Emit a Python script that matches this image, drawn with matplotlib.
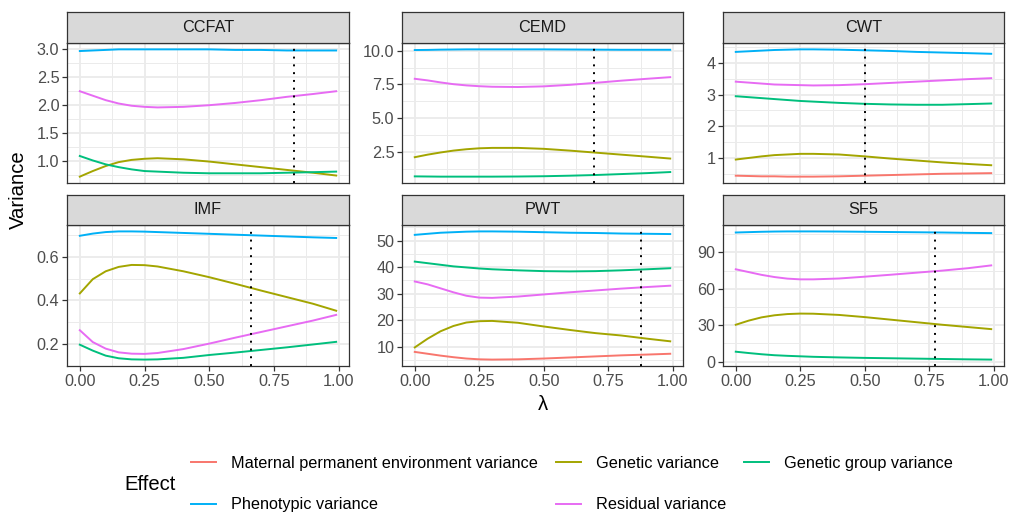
import numpy as np
import matplotlib
matplotlib.use("Agg")
import matplotlib.pyplot as plt
from matplotlib.lines import Line2D

plt.rcParams['font.family'] = ['Liberation Sans', 'DejaVu Sans']

# lambda grid the variances were read at
lam = [0, 0.05, 0.10, 0.15, 0.20, 0.25, 0.30, 0.40, 0.50, 0.60, 0.70, 0.80, 0.90, 0.99]

effects = ["Maternal permanent environment variance", "Genetic variance",
           "Genetic group variance", "Phenotypic variance", "Residual variance"]
colors = ["#F8766D", "#A3A500", "#00BF7D", "#00B0F6", "#E76BF3"]

traits = ["CCFAT", "CEMD", "CWT", "IMF", "PWT", "SF5"]
opt_lambda = [0.826, 0.696, 0.499, 0.66, 0.877, 0.774]

# CCFAT
ccfat_gen = [0.72, 0.82, 0.91, 0.98, 1.02, 1.04, 1.05, 1.03, 0.99, 0.94, 0.89, 0.84, 0.79, 0.74]
ccfat_grp = [1.09, 1.01, 0.94, 0.89, 0.85, 0.82, 0.81, 0.79, 0.78, 0.78, 0.78, 0.79, 0.80, 0.81]
ccfat_phe = [2.97, 2.98, 2.99, 3.00, 3.00, 3.00, 3.00, 3.00, 3.00, 2.99, 2.99, 2.98, 2.98, 2.98]
ccfat_res = [2.25, 2.17, 2.09, 2.03, 1.99, 1.97, 1.96, 1.97, 2.00, 2.04, 2.09, 2.15, 2.20, 2.25]

# CEMD
cemd_gen = [2.11, 2.30, 2.46, 2.60, 2.70, 2.77, 2.80, 2.80, 2.73, 2.60, 2.45, 2.30, 2.15, 2.01]
cemd_grp = [0.69, 0.68, 0.67, 0.67, 0.67, 0.67, 0.67, 0.68, 0.70, 0.74, 0.79, 0.86, 0.93, 1.01]
cemd_phe = [10.05, 10.06, 10.08, 10.09, 10.10, 10.10, 10.10, 10.10, 10.10, 10.09, 10.08, 10.07, 10.07, 10.07]
cemd_res = [7.92, 7.80, 7.65, 7.52, 7.43, 7.37, 7.33, 7.31, 7.36, 7.47, 7.62, 7.78, 7.92, 8.04]

# CWT
cwt_mat = [0.44, 0.43, 0.42, 0.42, 0.41, 0.41, 0.41, 0.42, 0.44, 0.46, 0.48, 0.50, 0.51, 0.52]
cwt_gen = [0.95, 1.00, 1.05, 1.09, 1.11, 1.13, 1.13, 1.11, 1.05, 0.98, 0.92, 0.86, 0.81, 0.77]
cwt_grp = [2.95, 2.92, 2.89, 2.86, 2.83, 2.80, 2.78, 2.74, 2.71, 2.69, 2.68, 2.68, 2.70, 2.72]
cwt_phe = [4.35, 4.37, 4.39, 4.41, 4.42, 4.43, 4.43, 4.42, 4.40, 4.38, 4.35, 4.33, 4.31, 4.29]
cwt_res = [3.41, 3.38, 3.35, 3.32, 3.31, 3.30, 3.29, 3.30, 3.33, 3.37, 3.41, 3.45, 3.49, 3.52]

# IMF
imf_gen = [0.432, 0.497, 0.533, 0.553, 0.562, 0.561, 0.555, 0.533, 0.506, 0.476, 0.445, 0.415, 0.385, 0.353]
imf_grp = [0.198, 0.171, 0.148, 0.136, 0.131, 0.130, 0.131, 0.138, 0.151, 0.162, 0.174, 0.186, 0.199, 0.211]
imf_phe = [0.695, 0.705, 0.712, 0.715, 0.715, 0.714, 0.712, 0.708, 0.704, 0.700, 0.696, 0.692, 0.688, 0.685]
imf_res = [0.264, 0.210, 0.180, 0.163, 0.157, 0.156, 0.160, 0.178, 0.203, 0.230, 0.256, 0.282, 0.308, 0.334]

# PWT
pwt_mat = [8.0, 7.3, 6.6, 6.0, 5.5, 5.2, 5.1, 5.2, 5.5, 5.9, 6.3, 6.7, 7.0, 7.3]
pwt_gen = [9.7, 13.0, 15.8, 17.8, 19.1, 19.6, 19.7, 19.0, 17.6, 16.3, 15.1, 14.2, 13.0, 12.0]
pwt_grp = [42.1, 41.5, 40.9, 40.3, 39.9, 39.5, 39.2, 38.8, 38.5, 38.4, 38.5, 38.8, 39.2, 39.6]
pwt_phe = [52.2, 52.6, 53.0, 53.2, 53.4, 53.5, 53.5, 53.4, 53.2, 53.0, 52.9, 52.7, 52.6, 52.5]
pwt_res = [34.6, 33.5, 32.0, 30.5, 29.2, 28.5, 28.4, 28.9, 29.7, 30.5, 31.2, 31.9, 32.5, 33.0]

# SF5
sf5_gen = [30.4, 33.8, 36.5, 38.2, 39.2, 39.6, 39.5, 38.5, 36.7, 34.6, 32.5, 30.4, 28.5, 26.8]
sf5_grp = [8.2, 7.1, 6.1, 5.3, 4.8, 4.4, 4.0, 3.5, 3.1, 2.8, 2.5, 2.2, 1.9, 1.7]
sf5_phe = [106.4, 106.7, 107.0, 107.2, 107.3, 107.3, 107.3, 107.2, 107.0, 106.8, 106.6, 106.4, 106.1, 105.9]
sf5_res = [76.1, 73.8, 71.5, 69.7, 68.4, 67.8, 67.8, 68.5, 70.0, 71.6, 73.3, 75.0, 77.0, 79.3]

# series per trait, in effect order (None = effect not in model)
series = {
    "CCFAT": [None, ccfat_gen, ccfat_grp, ccfat_phe, ccfat_res],
    "CEMD": [None, cemd_gen, cemd_grp, cemd_phe, cemd_res],
    "CWT": [cwt_mat, cwt_gen, cwt_grp, cwt_phe, cwt_res],
    "IMF": [None, imf_gen, imf_grp, imf_phe, imf_res],
    "PWT": [pwt_mat, pwt_gen, pwt_grp, pwt_phe, pwt_res],
    "SF5": [None, sf5_gen, sf5_grp, sf5_phe, sf5_res],
}
yticks = {
    "CCFAT": ([1.0, 1.5, 2.0, 2.5, 3.0], "{:.1f}"),
    "CEMD": ([2.5, 5.0, 7.5, 10.0], "{:.1f}"),
    "CWT": ([1, 2, 3, 4], "{:.0f}"),
    "IMF": ([0.2, 0.4, 0.6], "{:.1f}"),
    "PWT": ([10, 20, 30, 40, 50], "{:.0f}"),
    "SF5": ([0, 30, 60, 90], "{:.0f}"),
}
xticks = [0, 0.25, 0.5, 0.75, 1.0]

W, H = 1012, 514
fig = plt.figure(figsize=(W / 100, H / 100), dpi=100)

col_x = [(67, 349), (402, 683), (723, 1004)]
row_y = [(12, 43, 183), (195, 225, 366)]  # strip top, panel top, panel bottom

dark = "#333333"
grid_c = "#EBEBEB"

for i, tr in enumerate(traits):
    r, c = divmod(i, 3)
    x0, x1 = col_x[c]
    st, pt, pb = row_y[r]
    ax = fig.add_axes([x0 / W, 1 - pb / H, (x1 - x0) / W, (pb - pt) / H])
    sax = fig.add_axes([x0 / W, 1 - pt / H, (x1 - x0) / W, (pt - st) / H])

    vals = []
    for k, s in enumerate(series[tr]):
        if s is None:
            continue
        ax.plot(lam, s, color=colors[k], lw=1.4, zorder=3)
        vals += s
    ax.axvline(opt_lambda[i], color="black", ls=(0, (1, 3)), lw=1.4, zorder=4)

    lo, hi = min(vals), max(vals)
    pad = (hi - lo) * 0.05
    ax.set_ylim(lo - pad, hi + pad)
    ax.set_xlim(-0.0495, 0.99 + 0.0495)

    maj, fmt = yticks[tr]
    step = maj[1] - maj[0]
    ax.set_yticks(maj)
    ax.set_yticklabels([fmt.format(v) for v in maj])
    ymin = [m + step / 2 for m in [maj[0] - step] + maj]
    ax.set_yticks([m for m in ymin if lo - pad < m < hi + pad], minor=True)
    ax.set_xticks(xticks)
    ax.set_xticks([0.125, 0.375, 0.625, 0.875], minor=True)
    if r == 1:
        ax.set_xticklabels(["0.00", "0.25", "0.50", "0.75", "1.00"])
    else:
        ax.tick_params(axis="x", which="both", bottom=False, labelbottom=False)

    ax.grid(True, which="major", color=grid_c, lw=1.3, zorder=0)
    ax.grid(True, which="minor", color=grid_c, lw=0.7, zorder=0)
    ax.set_axisbelow(True)
    ax.tick_params(which="major", length=3.5, width=0.9, color=dark,
                   labelsize=11.7, labelcolor="#4D4D4D", pad=2)
    ax.tick_params(which="minor", length=0)
    for sp in ax.spines.values():
        sp.set_color(dark)
        sp.set_linewidth(0.9)

    sax.set_facecolor("#D9D9D9")
    sax.set_xticks([])
    sax.set_yticks([])
    for sp in sax.spines.values():
        sp.set_color(dark)
        sp.set_linewidth(0.9)
    sax.text(0.5, 0.5, tr, ha="center", va="center", fontsize=11.7,
             color="#1A1A1A", transform=sax.transAxes)

fig.text(18 / W, 1 - 190 / H, "Variance", rotation=90, ha="center", va="center",
         fontsize=14.6, color="black")
fig.text(543 / W, 1 - 405 / H, "λ", ha="center", va="center", fontsize=14.6,
         color="black")

order = [0, 3, 1, 4, 2]
handles = [Line2D([], [], color=colors[k], lw=1.4) for k in order]
labels = [effects[k] for k in order]
fig.legend(handles, labels, ncol=3, loc="center left",
           bbox_to_anchor=(183 / W, 1 - 484 / H), frameon=False, borderpad=0,
           fontsize=11.7, handlelength=1.55, handletextpad=0.92,
           columnspacing=1.08, labelspacing=1.65)
fig.text(124 / W, 1 - 485 / H, "Effect", ha="left", va="center", fontsize=14.6,
         color="black")

fig.savefig("out.png", dpi=100)
